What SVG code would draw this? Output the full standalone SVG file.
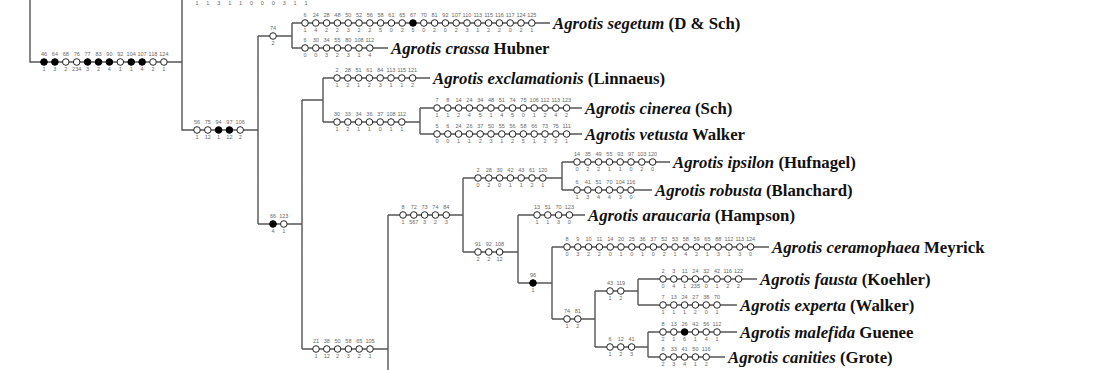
<svg xmlns="http://www.w3.org/2000/svg" width="1095" height="370" viewBox="0 0 1095 370">
<style>
.ln{stroke:#555;stroke-width:1.4;fill:none}
.o{fill:#fff;stroke:#222;stroke-width:1}
.f{fill:#000;stroke:#000;stroke-width:1}
.n{font-family:"Liberation Sans",Arial,sans-serif;font-size:5.5px;fill:#666;text-anchor:middle}
.sp{font-family:"Liberation Serif","Times New Roman",serif;font-size:16.8px;font-weight:bold;fill:#111}
.sp tspan.i{font-style:italic}
</style>
<rect width="1095" height="370" fill="#fff"/>
<g id="connectors" class="ln">
<path d="M30 0V62H182M182 -5V130H258M258 36V224M258 36H292M292 23V48M292 23H550M292 48H388M258 224H302M302 100V349M302 100H323M323 78V122M323 78H430M323 122H420M420 108V134M420 108H582M420 134H582M302 349H388M388 215V370M388 215H463M463 178V252M463 178H562M562 162V190M562 162H670M562 190H652M463 252H518M518 215V283M518 215H585M518 283H552M552 247V319M552 247H769M552 319H595M595 291V347M595 291H638M638 279V305M638 279H757M638 305H737M595 347H648M648 332V357M648 332H737M648 357H725M182 -5H320"/>
</g>
<g id="n-topcut">
<g class="o"><circle cx="197" cy="-5" r="3.3"/><circle cx="207.9" cy="-5" r="3.3"/><circle cx="218.8" cy="-5" r="3.3"/><circle cx="229.7" cy="-5" r="3.3"/><circle cx="240.6" cy="-5" r="3.3"/><circle cx="251.5" cy="-5" r="3.3"/><circle cx="262.4" cy="-5" r="3.3"/><circle cx="273.3" cy="-5" r="3.3"/><circle cx="284.2" cy="-5" r="3.3"/><circle cx="295.1" cy="-5" r="3.3"/><circle cx="306" cy="-5" r="3.3"/></g>
<g class="n"><text x="197" y="5">1</text><text x="207.9" y="5">1</text><text x="218.8" y="5">3</text><text x="229.7" y="5">1</text><text x="240.6" y="5">1</text><text x="251.5" y="5">0</text><text x="262.4" y="5">0</text><text x="273.3" y="5">0</text><text x="284.2" y="5">3</text><text x="295.1" y="5">1</text><text x="306" y="5">1</text></g>
</g>
<g id="n-root">
<circle class="f" cx="44" cy="62" r="3.3"/><circle class="f" cx="54.9" cy="62" r="3.3"/><circle class="o" cx="65.8" cy="62" r="3.3"/><circle class="o" cx="76.7" cy="62" r="3.3"/><circle class="f" cx="87.6" cy="62" r="3.3"/><circle class="f" cx="98.5" cy="62" r="3.3"/><circle class="f" cx="109.4" cy="62" r="3.3"/><circle class="o" cx="120.3" cy="62" r="3.3"/><circle class="f" cx="131.2" cy="62" r="3.3"/><circle class="f" cx="142.1" cy="62" r="3.3"/><circle class="o" cx="153" cy="62" r="3.3"/><circle class="o" cx="163.9" cy="62" r="3.3"/>
<g class="n"><text x="44" y="56">46</text><text x="54.9" y="56">64</text><text x="65.8" y="56">68</text><text x="76.7" y="56">76</text><text x="87.6" y="56">77</text><text x="98.5" y="56">83</text><text x="109.4" y="56">90</text><text x="120.3" y="56">92</text><text x="131.2" y="56">104</text><text x="142.1" y="56">107</text><text x="153" y="56">118</text><text x="163.9" y="56">124</text>
<text x="44" y="71">1</text><text x="54.9" y="71">3</text><text x="65.8" y="71">2</text><text x="76.7" y="71">234</text><text x="87.6" y="71">3</text><text x="98.5" y="71">2</text><text x="109.4" y="71">4</text><text x="120.3" y="71">1</text><text x="131.2" y="71">1</text><text x="142.1" y="71">4</text><text x="153" y="71">2</text><text x="163.9" y="71">1</text></g>
</g>
<g id="n-130">
<circle class="o" cx="197" cy="130" r="3.3"/><circle class="o" cx="207.8" cy="130" r="3.3"/><circle class="f" cx="218.6" cy="130" r="3.3"/><circle class="f" cx="229.4" cy="130" r="3.3"/><circle class="o" cx="240.2" cy="130" r="3.3"/>
<g class="n"><text x="197" y="124">56</text><text x="207.8" y="124">75</text><text x="218.6" y="124">94</text><text x="229.4" y="124">97</text><text x="240.2" y="124">106</text>
<text x="197" y="139">1</text><text x="207.8" y="139">12</text><text x="218.6" y="139">1</text><text x="229.4" y="139">12</text><text x="240.2" y="139">2</text></g>
</g>
<g id="n-36">
<circle class="o" cx="273" cy="36" r="3.3"/>
<g class="n"><text x="273" y="30">74</text><text x="273" y="45">2</text></g>
</g>
<g id="t-segetum">
<g class="o"><circle cx="305" cy="23" r="3.3"/><circle cx="315.8" cy="23" r="3.3"/><circle cx="326.6" cy="23" r="3.3"/><circle cx="337.4" cy="23" r="3.3"/><circle cx="348.2" cy="23" r="3.3"/><circle cx="359" cy="23" r="3.3"/><circle cx="369.8" cy="23" r="3.3"/><circle cx="380.6" cy="23" r="3.3"/><circle cx="391.4" cy="23" r="3.3"/><circle cx="402.2" cy="23" r="3.3"/><circle cx="423.8" cy="23" r="3.3"/><circle cx="434.6" cy="23" r="3.3"/><circle cx="445.4" cy="23" r="3.3"/><circle cx="456.2" cy="23" r="3.3"/><circle cx="467" cy="23" r="3.3"/><circle cx="477.8" cy="23" r="3.3"/><circle cx="488.6" cy="23" r="3.3"/><circle cx="499.4" cy="23" r="3.3"/><circle cx="510.2" cy="23" r="3.3"/><circle cx="521" cy="23" r="3.3"/><circle cx="531.8" cy="23" r="3.3"/></g>
<circle class="f" cx="413" cy="23" r="3.3"/>
<g class="n"><text x="305" y="17">6</text><text x="315.8" y="17">24</text><text x="326.6" y="17">28</text><text x="337.4" y="17">48</text><text x="348.2" y="17">50</text><text x="359" y="17">52</text><text x="369.8" y="17">56</text><text x="380.6" y="17">58</text><text x="391.4" y="17">61</text><text x="402.2" y="17">65</text><text x="413" y="17">67</text><text x="423.8" y="17">70</text><text x="434.6" y="17">81</text><text x="445.4" y="17">92</text><text x="456.2" y="17">107</text><text x="467" y="17">110</text><text x="477.8" y="17">113</text><text x="488.6" y="17">115</text><text x="499.4" y="17">116</text><text x="510.2" y="17">117</text><text x="521" y="17">124</text><text x="531.8" y="17">125</text>
<text x="305" y="32">1</text><text x="315.8" y="32">4</text><text x="326.6" y="32">2</text><text x="337.4" y="32">2</text><text x="348.2" y="32">3</text><text x="359" y="32">2</text><text x="369.8" y="32">2</text><text x="380.6" y="32">5</text><text x="391.4" y="32">0</text><text x="402.2" y="32">2</text><text x="413" y="32">5</text><text x="423.8" y="32">0</text><text x="434.6" y="32">2</text><text x="445.4" y="32">0</text><text x="456.2" y="32">2</text><text x="467" y="32">3</text><text x="477.8" y="32">1</text><text x="488.6" y="32">2</text><text x="499.4" y="32">2</text><text x="510.2" y="32">0</text><text x="521" y="32">2</text><text x="531.8" y="32">1</text></g>
<text class="sp" x="553" y="29"><tspan class="i">Agrotis segetum</tspan> (D &amp; Sch)</text>
</g>
<g id="t-crassa">
<g class="o"><circle cx="305" cy="48" r="3.3"/><circle cx="315.8" cy="48" r="3.3"/><circle cx="326.6" cy="48" r="3.3"/><circle cx="337.4" cy="48" r="3.3"/><circle cx="348.2" cy="48" r="3.3"/><circle cx="359" cy="48" r="3.3"/><circle cx="369.8" cy="48" r="3.3"/></g>
<g class="n"><text x="305" y="42">6</text><text x="315.8" y="42">30</text><text x="326.6" y="42">34</text><text x="337.4" y="42">55</text><text x="348.2" y="42">80</text><text x="359" y="42">108</text><text x="369.8" y="42">112</text>
<text x="305" y="57">0</text><text x="315.8" y="57">0</text><text x="326.6" y="57">3</text><text x="337.4" y="57">2</text><text x="348.2" y="57">3</text><text x="359" y="57">1</text><text x="369.8" y="57">4</text></g>
<text class="sp" x="391" y="54"><tspan class="i">Agrotis crassa</tspan> Hubner</text>
</g>
<g id="n-224">
<circle class="f" cx="273" cy="224" r="3.3"/><circle class="o" cx="283.8" cy="224" r="3.3"/>
<g class="n"><text x="273" y="218">66</text><text x="283.8" y="218">123</text><text x="273" y="233">4</text><text x="283.8" y="233">1</text></g>
</g>
<g id="t-exclamationis">
<g class="o"><circle cx="337" cy="78" r="3.3"/><circle cx="347.8" cy="78" r="3.3"/><circle cx="358.6" cy="78" r="3.3"/><circle cx="369.4" cy="78" r="3.3"/><circle cx="380.2" cy="78" r="3.3"/><circle cx="391" cy="78" r="3.3"/><circle cx="401.8" cy="78" r="3.3"/><circle cx="412.6" cy="78" r="3.3"/></g>
<g class="n"><text x="337" y="72">2</text><text x="347.8" y="72">28</text><text x="358.6" y="72">51</text><text x="369.4" y="72">61</text><text x="380.2" y="72">84</text><text x="391" y="72">113</text><text x="401.8" y="72">115</text><text x="412.6" y="72">121</text>
<text x="337" y="87">1</text><text x="347.8" y="87">2</text><text x="358.6" y="87">1</text><text x="369.4" y="87">2</text><text x="380.2" y="87">3</text><text x="391" y="87">1</text><text x="401.8" y="87">1</text><text x="412.6" y="87">2</text></g>
<text class="sp" x="433" y="84"><tspan class="i">Agrotis exclamationis</tspan> (Linnaeus)</text>
</g>
<g id="n-122">
<g class="o"><circle cx="337" cy="122" r="3.3"/><circle cx="347.8" cy="122" r="3.3"/><circle cx="358.6" cy="122" r="3.3"/><circle cx="369.4" cy="122" r="3.3"/><circle cx="380.2" cy="122" r="3.3"/><circle cx="391" cy="122" r="3.3"/><circle cx="401.8" cy="122" r="3.3"/></g>
<g class="n"><text x="337" y="116">30</text><text x="347.8" y="116">33</text><text x="358.6" y="116">34</text><text x="369.4" y="116">36</text><text x="380.2" y="116">37</text><text x="391" y="116">108</text><text x="401.8" y="116">112</text>
<text x="337" y="131">1</text><text x="347.8" y="131">2</text><text x="358.6" y="131">1</text><text x="369.4" y="131">1</text><text x="380.2" y="131">0</text><text x="391" y="131">1</text><text x="401.8" y="131">1</text></g>
</g>
<g id="t-cinerea">
<g class="o"><circle cx="437" cy="108" r="3.3"/><circle cx="447.8" cy="108" r="3.3"/><circle cx="458.6" cy="108" r="3.3"/><circle cx="469.4" cy="108" r="3.3"/><circle cx="480.2" cy="108" r="3.3"/><circle cx="491" cy="108" r="3.3"/><circle cx="501.8" cy="108" r="3.3"/><circle cx="512.6" cy="108" r="3.3"/><circle cx="523.4" cy="108" r="3.3"/><circle cx="534.2" cy="108" r="3.3"/><circle cx="545" cy="108" r="3.3"/><circle cx="555.8" cy="108" r="3.3"/><circle cx="566.6" cy="108" r="3.3"/></g>
<g class="n"><text x="437" y="102">7</text><text x="447.8" y="102">8</text><text x="458.6" y="102">14</text><text x="469.4" y="102">24</text><text x="480.2" y="102">34</text><text x="491" y="102">48</text><text x="501.8" y="102">51</text><text x="512.6" y="102">74</text><text x="523.4" y="102">75</text><text x="534.2" y="102">106</text><text x="545" y="102">112</text><text x="555.8" y="102">113</text><text x="566.6" y="102">123</text>
<text x="437" y="117">1</text><text x="447.8" y="117">1</text><text x="458.6" y="117">2</text><text x="469.4" y="117">4</text><text x="480.2" y="117">5</text><text x="491" y="117">1</text><text x="501.8" y="117">4</text><text x="512.6" y="117">5</text><text x="523.4" y="117">0</text><text x="534.2" y="117">1</text><text x="545" y="117">2</text><text x="555.8" y="117">4</text><text x="566.6" y="117">2</text></g>
<text class="sp" x="585" y="114"><tspan class="i">Agrotis cinerea</tspan> (Sch)</text>
</g>
<g id="t-vetusta">
<g class="o"><circle cx="437" cy="134" r="3.3"/><circle cx="447.8" cy="134" r="3.3"/><circle cx="458.6" cy="134" r="3.3"/><circle cx="469.4" cy="134" r="3.3"/><circle cx="480.2" cy="134" r="3.3"/><circle cx="491" cy="134" r="3.3"/><circle cx="501.8" cy="134" r="3.3"/><circle cx="512.6" cy="134" r="3.3"/><circle cx="523.4" cy="134" r="3.3"/><circle cx="534.2" cy="134" r="3.3"/><circle cx="545" cy="134" r="3.3"/><circle cx="555.8" cy="134" r="3.3"/><circle cx="566.6" cy="134" r="3.3"/></g>
<g class="n"><text x="437" y="128">5</text><text x="447.8" y="128">6</text><text x="458.6" y="128">24</text><text x="469.4" y="128">26</text><text x="480.2" y="128">37</text><text x="491" y="128">50</text><text x="501.8" y="128">55</text><text x="512.6" y="128">56</text><text x="523.4" y="128">58</text><text x="534.2" y="128">66</text><text x="545" y="128">73</text><text x="555.8" y="128">75</text><text x="566.6" y="128">111</text>
<text x="437" y="143">0</text><text x="447.8" y="143">0</text><text x="458.6" y="143">1</text><text x="469.4" y="143">1</text><text x="480.2" y="143">2</text><text x="491" y="143">3</text><text x="501.8" y="143">1</text><text x="512.6" y="143">2</text><text x="523.4" y="143">5</text><text x="534.2" y="143">1</text><text x="545" y="143">2</text><text x="555.8" y="143">2</text><text x="566.6" y="143">1</text></g>
<text class="sp" x="585" y="140"><tspan class="i">Agrotis vetusta</tspan> Walker</text>
</g>
<g id="n-349">
<g class="o"><circle cx="316" cy="349" r="3.3"/><circle cx="326.8" cy="349" r="3.3"/><circle cx="337.6" cy="349" r="3.3"/><circle cx="348.4" cy="349" r="3.3"/><circle cx="359.2" cy="349" r="3.3"/><circle cx="370" cy="349" r="3.3"/></g>
<g class="n"><text x="316" y="343">21</text><text x="326.8" y="343">38</text><text x="337.6" y="343">50</text><text x="348.4" y="343">58</text><text x="359.2" y="343">65</text><text x="370" y="343">105</text>
<text x="316" y="358">1</text><text x="326.8" y="358">12</text><text x="337.6" y="358">2</text><text x="348.4" y="358">3</text><text x="359.2" y="358">2</text><text x="370" y="358">1</text></g>
</g>
<g id="n-215">
<g class="o"><circle cx="403" cy="215" r="3.3"/><circle cx="413.8" cy="215" r="3.3"/><circle cx="424.6" cy="215" r="3.3"/><circle cx="435.4" cy="215" r="3.3"/><circle cx="446.2" cy="215" r="3.3"/></g>
<g class="n"><text x="403" y="209">8</text><text x="413.8" y="209">72</text><text x="424.6" y="209">73</text><text x="435.4" y="209">74</text><text x="446.2" y="209">84</text>
<text x="403" y="224">1</text><text x="413.8" y="224">567</text><text x="424.6" y="224">3</text><text x="435.4" y="224">2</text><text x="446.2" y="224">3</text></g>
</g>
<g id="n-178">
<g class="o"><circle cx="478" cy="178" r="3.3"/><circle cx="488.8" cy="178" r="3.3"/><circle cx="499.6" cy="178" r="3.3"/><circle cx="510.4" cy="178" r="3.3"/><circle cx="521.2" cy="178" r="3.3"/><circle cx="532" cy="178" r="3.3"/><circle cx="542.8" cy="178" r="3.3"/></g>
<g class="n"><text x="478" y="172">2</text><text x="488.8" y="172">28</text><text x="499.6" y="172">30</text><text x="510.4" y="172">42</text><text x="521.2" y="172">43</text><text x="532" y="172">61</text><text x="542.8" y="172">120</text>
<text x="478" y="187">0</text><text x="488.8" y="187">2</text><text x="499.6" y="187">0</text><text x="510.4" y="187">1</text><text x="521.2" y="187">1</text><text x="532" y="187">2</text><text x="542.8" y="187">1</text></g>
</g>
<g id="t-ipsilon">
<g class="o"><circle cx="577" cy="162" r="3.3"/><circle cx="587.8" cy="162" r="3.3"/><circle cx="598.6" cy="162" r="3.3"/><circle cx="609.4" cy="162" r="3.3"/><circle cx="620.2" cy="162" r="3.3"/><circle cx="631" cy="162" r="3.3"/><circle cx="641.8" cy="162" r="3.3"/><circle cx="652.6" cy="162" r="3.3"/></g>
<g class="n"><text x="577" y="156">14</text><text x="587.8" y="156">35</text><text x="598.6" y="156">49</text><text x="609.4" y="156">55</text><text x="620.2" y="156">93</text><text x="631" y="156">97</text><text x="641.8" y="156">103</text><text x="652.6" y="156">120</text>
<text x="577" y="171">0</text><text x="587.8" y="171">2</text><text x="598.6" y="171">2</text><text x="609.4" y="171">1</text><text x="620.2" y="171">1</text><text x="631" y="171">0</text><text x="641.8" y="171">2</text><text x="652.6" y="171">0</text></g>
<text class="sp" x="673" y="168"><tspan class="i">Agrotis ipsilon</tspan> (Hufnagel)</text>
</g>
<g id="t-robusta">
<g class="o"><circle cx="577" cy="190" r="3.3"/><circle cx="587.8" cy="190" r="3.3"/><circle cx="598.6" cy="190" r="3.3"/><circle cx="609.4" cy="190" r="3.3"/><circle cx="620.2" cy="190" r="3.3"/><circle cx="631" cy="190" r="3.3"/></g>
<g class="n"><text x="577" y="184">6</text><text x="587.8" y="184">41</text><text x="598.6" y="184">51</text><text x="609.4" y="184">70</text><text x="620.2" y="184">104</text><text x="631" y="184">116</text>
<text x="577" y="199">1</text><text x="587.8" y="199">3</text><text x="598.6" y="199">4</text><text x="609.4" y="199">4</text><text x="620.2" y="199">3</text><text x="631" y="199">0</text></g>
<text class="sp" x="655" y="196"><tspan class="i">Agrotis robusta</tspan> (Blanchard)</text>
</g>
<g id="n-252">
<g class="o"><circle cx="478" cy="252" r="3.3"/><circle cx="488.8" cy="252" r="3.3"/><circle cx="499.6" cy="252" r="3.3"/></g>
<g class="n"><text x="478" y="246">91</text><text x="488.8" y="246">92</text><text x="499.6" y="246">108</text>
<text x="478" y="261">2</text><text x="488.8" y="261">2</text><text x="499.6" y="261">12</text></g>
</g>
<g id="t-araucaria">
<g class="o"><circle cx="537" cy="215" r="3.3"/><circle cx="547.8" cy="215" r="3.3"/><circle cx="558.6" cy="215" r="3.3"/><circle cx="569.4" cy="215" r="3.3"/></g>
<g class="n"><text x="537" y="209">13</text><text x="547.8" y="209">51</text><text x="558.6" y="209">70</text><text x="569.4" y="209">123</text>
<text x="537" y="224">1</text><text x="547.8" y="224">1</text><text x="558.6" y="224">3</text><text x="569.4" y="224">0</text></g>
<text class="sp" x="588" y="221"><tspan class="i">Agrotis araucaria</tspan> (Hampson)</text>
</g>
<g id="n-283">
<circle class="f" cx="533" cy="283" r="3.3"/>
<g class="n"><text x="533" y="277">96</text><text x="533" y="292">1</text></g>
</g>
<g id="t-ceramophaea">
<g class="o"><circle cx="567" cy="247" r="3.3"/><circle cx="577.8" cy="247" r="3.3"/><circle cx="588.6" cy="247" r="3.3"/><circle cx="599.4" cy="247" r="3.3"/><circle cx="610.2" cy="247" r="3.3"/><circle cx="621" cy="247" r="3.3"/><circle cx="631.8" cy="247" r="3.3"/><circle cx="642.6" cy="247" r="3.3"/><circle cx="653.4" cy="247" r="3.3"/><circle cx="664.2" cy="247" r="3.3"/><circle cx="675" cy="247" r="3.3"/><circle cx="685.8" cy="247" r="3.3"/><circle cx="696.6" cy="247" r="3.3"/><circle cx="707.4" cy="247" r="3.3"/><circle cx="718.2" cy="247" r="3.3"/><circle cx="729" cy="247" r="3.3"/><circle cx="739.8" cy="247" r="3.3"/><circle cx="750.6" cy="247" r="3.3"/></g>
<g class="n"><text x="567" y="241">8</text><text x="577.8" y="241">9</text><text x="588.6" y="241">10</text><text x="599.4" y="241">11</text><text x="610.2" y="241">14</text><text x="621" y="241">20</text><text x="631.8" y="241">25</text><text x="642.6" y="241">36</text><text x="653.4" y="241">37</text><text x="664.2" y="241">52</text><text x="675" y="241">53</text><text x="685.8" y="241">58</text><text x="696.6" y="241">59</text><text x="707.4" y="241">65</text><text x="718.2" y="241">88</text><text x="729" y="241">112</text><text x="739.8" y="241">113</text><text x="750.6" y="241">124</text>
<text x="567" y="256">0</text><text x="577.8" y="256">3</text><text x="588.6" y="256">2</text><text x="599.4" y="256">2</text><text x="610.2" y="256">0</text><text x="621" y="256">1</text><text x="631.8" y="256">0</text><text x="642.6" y="256">1</text><text x="653.4" y="256">0</text><text x="664.2" y="256">2</text><text x="675" y="256">1</text><text x="685.8" y="256">4</text><text x="696.6" y="256">2</text><text x="707.4" y="256">1</text><text x="718.2" y="256">3</text><text x="729" y="256">1</text><text x="739.8" y="256">3</text><text x="750.6" y="256">0</text></g>
<text class="sp" x="772" y="253"><tspan class="i">Agrotis ceramophaea</tspan> Meyrick</text>
</g>
<g id="n-319">
<g class="o"><circle cx="567" cy="319" r="3.3"/><circle cx="577.8" cy="319" r="3.3"/></g>
<g class="n"><text x="567" y="313">74</text><text x="577.8" y="313">81</text><text x="567" y="328">1</text><text x="577.8" y="328">2</text></g>
</g>
<g id="n-291">
<g class="o"><circle cx="610" cy="291" r="3.3"/><circle cx="620.8" cy="291" r="3.3"/></g>
<g class="n"><text x="610" y="285">43</text><text x="620.8" y="285">119</text><text x="610" y="300">1</text><text x="620.8" y="300">2</text></g>
</g>
<g id="t-fausta">
<g class="o"><circle cx="663" cy="279" r="3.3"/><circle cx="673.8" cy="279" r="3.3"/><circle cx="684.6" cy="279" r="3.3"/><circle cx="695.4" cy="279" r="3.3"/><circle cx="706.2" cy="279" r="3.3"/><circle cx="717" cy="279" r="3.3"/><circle cx="727.8" cy="279" r="3.3"/><circle cx="738.6" cy="279" r="3.3"/></g>
<g class="n"><text x="663" y="273">2</text><text x="673.8" y="273">3</text><text x="684.6" y="273">11</text><text x="695.4" y="273">24</text><text x="706.2" y="273">32</text><text x="717" y="273">42</text><text x="727.8" y="273">116</text><text x="738.6" y="273">122</text>
<text x="663" y="288">0</text><text x="673.8" y="288">4</text><text x="684.6" y="288">1</text><text x="695.4" y="288">235</text><text x="706.2" y="288">0</text><text x="717" y="288">1</text><text x="727.8" y="288">2</text><text x="738.6" y="288">2</text></g>
<text class="sp" x="760" y="285"><tspan class="i">Agrotis fausta</tspan> (Koehler)</text>
</g>
<g id="t-experta">
<g class="o"><circle cx="663" cy="305" r="3.3"/><circle cx="673.8" cy="305" r="3.3"/><circle cx="684.6" cy="305" r="3.3"/><circle cx="695.4" cy="305" r="3.3"/><circle cx="706.2" cy="305" r="3.3"/><circle cx="717" cy="305" r="3.3"/></g>
<g class="n"><text x="663" y="299">7</text><text x="673.8" y="299">13</text><text x="684.6" y="299">24</text><text x="695.4" y="299">27</text><text x="706.2" y="299">38</text><text x="717" y="299">70</text>
<text x="663" y="314">1</text><text x="673.8" y="314">1</text><text x="684.6" y="314">1</text><text x="695.4" y="314">2</text><text x="706.2" y="314">0</text><text x="717" y="314">1</text></g>
<text class="sp" x="740" y="311"><tspan class="i">Agrotis experta</tspan> (Walker)</text>
</g>
<g id="n-347">
<g class="o"><circle cx="610" cy="347" r="3.3"/><circle cx="620.8" cy="347" r="3.3"/><circle cx="631.6" cy="347" r="3.3"/></g>
<g class="n"><text x="610" y="341">6</text><text x="620.8" y="341">12</text><text x="631.6" y="341">41</text><text x="610" y="356">1</text><text x="620.8" y="356">2</text><text x="631.6" y="356">3</text></g>
</g>
<g id="t-malefida">
<circle class="o" cx="663" cy="332" r="3.3"/><circle class="o" cx="673.8" cy="332" r="3.3"/><circle class="f" cx="684.6" cy="332" r="3.3"/><circle class="o" cx="695.4" cy="332" r="3.3"/><circle class="o" cx="706.2" cy="332" r="3.3"/><circle class="o" cx="717" cy="332" r="3.3"/>
<g class="n"><text x="663" y="326">8</text><text x="673.8" y="326">13</text><text x="684.6" y="326">26</text><text x="695.4" y="326">42</text><text x="706.2" y="326">56</text><text x="717" y="326">112</text>
<text x="663" y="341">2</text><text x="673.8" y="341">1</text><text x="684.6" y="341">6</text><text x="695.4" y="341">1</text><text x="706.2" y="341">4</text><text x="717" y="341">1</text></g>
<text class="sp" x="740" y="338"><tspan class="i">Agrotis malefida</tspan> Guenee</text>
</g>
<g id="t-canities">
<g class="o"><circle cx="663" cy="357" r="3.3"/><circle cx="673.8" cy="357" r="3.3"/><circle cx="684.6" cy="357" r="3.3"/><circle cx="695.4" cy="357" r="3.3"/><circle cx="706.2" cy="357" r="3.3"/></g>
<g class="n"><text x="663" y="351">8</text><text x="673.8" y="351">33</text><text x="684.6" y="351">41</text><text x="695.4" y="351">50</text><text x="706.2" y="351">116</text>
<text x="663" y="366">2</text><text x="673.8" y="366">3</text><text x="684.6" y="366">4</text><text x="695.4" y="366">1</text><text x="706.2" y="366">2</text></g>
<text class="sp" x="728" y="363"><tspan class="i">Agrotis canities</tspan> (Grote)</text>
</g>
</svg>
